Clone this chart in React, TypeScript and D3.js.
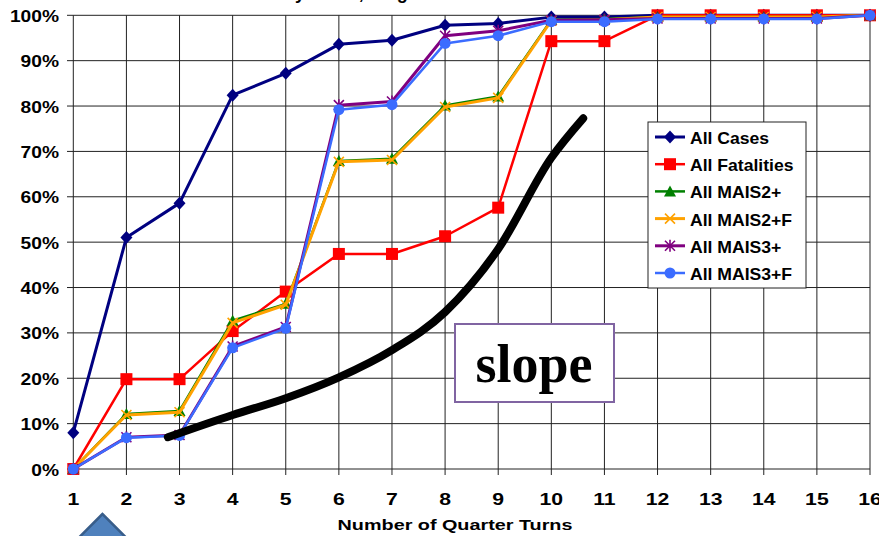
import React from "react";
import * as d3 from "d3";

// Quarter turns on the horizontal axis
const turns = [1, 2, 3, 4, 5, 6, 7, 8, 9, 10, 11, 12, 13, 14, 15, 16];
const yTicks = [0, 10, 20, 30, 40, 50, 60, 70, 80, 90, 100];

// Cumulative percentages per series
const allCases = [8, 51, 58.6, 82.4, 87.2, 93.6, 94.5, 97.8, 98.2, 99.6, 99.6, 100, 100, 100, 100, 100];
const allFatalities = [0, 19.8, 19.8, 30.4, 39.1, 47.4, 47.4, 51.3, 57.6, 94.3, 94.3, 100, 100, 100, 100, 100];
const allMais2 = [0, 12.1, 12.8, 32.7, 36.4, 67.9, 68.4, 80.1, 82.1, 99.0, 99.2, 99.6, 99.6, 99.6, 99.6, 100];
const allMais2F = [0, 11.9, 12.5, 32.2, 36.2, 67.7, 68.1, 79.8, 81.8, 98.8, 99.0, 99.6, 99.6, 99.6, 99.6, 100];
const allMais3 = [0, 7.0, 7.5, 27.0, 31.3, 80.2, 81.0, 95.5, 96.6, 98.9, 99.0, 99.3, 99.3, 99.3, 99.3, 100];
const allMais3F = [0, 6.9, 7.4, 26.7, 31.0, 79.2, 80.3, 93.8, 95.5, 98.6, 98.6, 99.2, 99.2, 99.2, 99.2, 100];

const seriesNames = ["All Cases", "All Fatalities", "All MAIS2+", "All MAIS2+F", "All MAIS3+", "All MAIS3+F"];

// Hand-drawn trend annotation, in (quarter turns, percent)
const slopeCurve: [number, number][] = [
  [2.78, 7.0], [4, 11.9], [5, 15.6], [6, 20.2], [7, 26.2], [8, 34.6], [9, 48.5], [10, 68.6], [10.6, 77.3],
];

type Marker = "diamond" | "square" | "triangle" | "x" | "star" | "circle";

const styles: { color: string; width: number; marker: Marker }[] = [
  { color: "#000080", width: 3, marker: "diamond" },
  { color: "#ff0000", width: 2.5, marker: "square" },
  { color: "#008000", width: 2.5, marker: "triangle" },
  { color: "#ffa200", width: 3, marker: "x" },
  { color: "#800080", width: 3, marker: "star" },
  { color: "#3b6cff", width: 2.5, marker: "circle" },
];

const W = 879;
const H = 536;
const x = d3.scaleLinear().domain([1, 16]).range([73.3, 870]);
const y = d3.scaleLinear().domain([0, 100]).range([469, 15.3]);

function MarkerShape({ kind, cx, cy, color }: { kind: Marker; cx: number; cy: number; color: string }) {
  switch (kind) {
    case "diamond":
      return <path d={`M${cx},${cy - 6.5}L${cx + 6},${cy}L${cx},${cy + 6.5}L${cx - 6},${cy}Z`} fill={color} />;
    case "square":
      return <rect x={cx - 6} y={cy - 6} width={12} height={12} fill={color} />;
    case "triangle":
      return <path d={`M${cx},${cy - 6}L${cx + 6},${cy + 5}L${cx - 6},${cy + 5}Z`} fill={color} />;
    case "x":
      return (
        <path
          d={`M${cx - 5},${cy - 5}L${cx + 5},${cy + 5}M${cx - 5},${cy + 5}L${cx + 5},${cy - 5}`}
          stroke={color}
          strokeWidth={1.6}
        />
      );
    case "star":
      return (
        <path
          d={`M${cx - 5},${cy - 5}L${cx + 5},${cy + 5}M${cx - 5},${cy + 5}L${cx + 5},${cy - 5}M${cx},${cy - 6}L${cx},${cy + 6}`}
          stroke={color}
          strokeWidth={1.6}
        />
      );
    default:
      return <circle cx={cx} cy={cy} r={5.5} fill={color} />;
  }
}

export default function App() {
  const series = [allCases, allFatalities, allMais2, allMais2F, allMais3, allMais3F];
  const line = d3
    .line<number>()
    .x((_, i) => x(turns[i]))
    .y((v) => y(v));
  const slopeLine = d3
    .line<[number, number]>()
    .x((d) => x(d[0]))
    .y((d) => y(d[1]))
    .curve(d3.curveMonotoneX);

  const font = "'Liberation Sans', Arial, sans-serif";
  const legendX = 648;
  const legendY = 122;

  return (
    <svg width={W} height={H} style={{ position: "absolute", left: 0, top: 0, background: "#fff" }}>
      <rect width={W} height={H} fill="#fff" />

      {/* title, mostly above the visible area */}
      <text x={127} y={-1} fontFamily={font} fontWeight="bold" fontSize={18} fill="#000">
        Cumulative Share by Turns, Single Vehicle Rollovers
      </text>

      {/* grid */}
      {yTicks.map((t) => (
        <line key={"h" + t} x1={67} x2={870} y1={y(t)} y2={y(t)} stroke="#222" strokeWidth={1} />
      ))}
      {turns.map((t) => (
        <line key={"v" + t} x1={x(t)} x2={x(t)} y1={y(100)} y2={475} stroke="#222" strokeWidth={1} />
      ))}

      {/* y tick labels */}
      {yTicks.map((t) => (
        <text
          key={"yl" + t}
          transform={`translate(59,${y(t) + 6.5}) scale(1.2,1)`}
          textAnchor="end"
          fontFamily={font}
          fontWeight="bold"
          fontSize={16}
        >
          {t}%
        </text>
      ))}

      {/* x tick labels */}
      {turns.map((t) => (
        <text
          key={"xl" + t}
          transform={`translate(${x(t)},505) scale(1.3,1)`}
          textAnchor="middle"
          fontFamily={font}
          fontWeight="bold"
          fontSize={16.3}
        >
          {t}
        </text>
      ))}
      <text
        transform={`translate(455,530) scale(1.32,1)`}
        textAnchor="middle"
        fontFamily={font}
        fontWeight="bold"
        fontSize={15}
      >
        Number of Quarter Turns
      </text>

      {/* series */}
      {series.map((vals, si) => (
        <g key={"s" + si}>
          <path d={line(vals) || ""} fill="none" stroke={styles[si].color} strokeWidth={styles[si].width} strokeLinejoin="round" />
          {vals.map((v, i) => (
            <MarkerShape key={i} kind={styles[si].marker} cx={x(turns[i])} cy={y(v)} color={styles[si].color} />
          ))}
        </g>
      ))}

      {/* legend */}
      <rect x={legendX} y={legendY} width={158} height={166} fill="#fff" stroke="#222" strokeWidth={1} />
      {seriesNames.map((name, i) => {
        const cy = 137 + i * 27.2;
        return (
          <g key={"lg" + i}>
            <line x1={655} x2={685} y1={cy} y2={cy} stroke={styles[i].color} strokeWidth={styles[i].width} />
            <MarkerShape kind={styles[i].marker} cx={670} cy={cy} color={styles[i].color} />
            <text
              transform={`translate(690,${cy + 7}) scale(1.1,1)`}
              fontFamily={font}
              fontWeight="bold"
              fontSize={16}
            >
              {name}
            </text>
          </g>
        );
      })}

      {/* trend annotation */}
      <path d={slopeLine(slopeCurve) || ""} fill="none" stroke="#000" strokeWidth={8} strokeLinecap="round" />
      <rect x={455} y={324} width={159} height={78} fill="#fff" stroke="#8064a2" strokeWidth={2} />
      <text
        x={534}
        y={382}
        textAnchor="middle"
        fontFamily="'Liberation Serif', 'Times New Roman', serif"
        fontWeight="bold"
        fontSize={54}
      >
        slope
      </text>

      {/* up arrow at the lower edge */}
      <path d="M102.5,514L70,546.5L135,546.5Z" fill="#4f81bd" stroke="#385d8a" strokeWidth={2.5} strokeLinejoin="miter" />
    </svg>
  );
}
